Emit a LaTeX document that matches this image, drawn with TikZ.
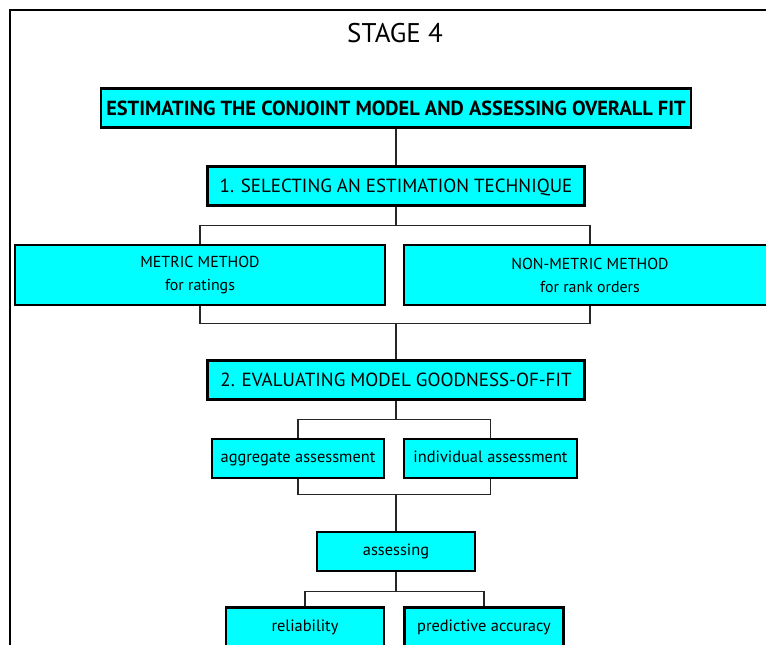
\documentclass[tikz,border=0pt]{standalone}
\usepackage{fontspec}
\setmainfont{PT Sans}
\usepackage{tikz}
\usetikzlibrary{positioning}
\usetikzlibrary{calc}
\definecolor{boxcyan}{RGB}{0,255,255}
\tikzstyle{plainbox}=[draw=black,fill=boxcyan,line width=2.6pt,inner sep=0pt]
\tikzstyle{stepbox}=[plainbox,minimum height=39pt,text height=13.3pt,text depth=0pt,font=\fontsize{19}{21}\selectfont]
\tikzstyle{smallbox}=[plainbox,minimum height=39pt,text height=11.5pt,text depth=3.5pt,font=\fontsize{16.4}{18}\selectfont]
\tikzstyle{methodbox}=[plainbox,minimum height=60pt,align=center,font=\fontsize{15.9}{23}\selectfont]
\tikzstyle{link} = [draw,line width=1.1pt,black!85]

\begin{document}
\begin{tikzpicture}[x=1pt,y=-1pt]

  \useasboundingbox (0,0) rectangle (766,645);
  \clip (0,0) rectangle (766,645);
  \draw[line width=2.6pt] (10,700) -- (10,10) -- (800,10);

  \node[font=\fontsize{27}{29}\selectfont] (stage) at (395,33) {STAGE 4};

  % main chain
  \node[stepbox,minimum width=590pt,text height=14.3pt,font=\fontsize{20.4}{22}\selectfont\bfseries] (estim) at (396,108) {ESTIMATING THE CONJOINT MODEL AND ASSESSING OVERALL FIT};
  \node[stepbox,minimum width=377pt] (select) at (396,186) {1. SELECTING AN ESTIMATION TECHNIQUE};
  \node[methodbox,minimum width=370pt] (metric) at (200,275) {METRIC METHOD\\for ratings};
  \node[methodbox,minimum width=372pt] (nonmetric) at (590,275) {NON-METRIC METHOD\\for rank orders};
  \node[stepbox,minimum width=377pt] (evaluate) at (396,380) {2. EVALUATING MODEL GOODNESS-OF-FIT};
  \node[smallbox,minimum width=172pt] (aggr) at (298,458.5) {aggregate assessment};
  \node[smallbox,minimum width=173pt] (indiv) at (490.5,458.5) {individual assessment};
  \node[smallbox,minimum width=158pt] (assess) at (396,551.5) {assessing};
  \node[smallbox,minimum width=158pt] (reliab) at (305,627) {reliability};
  \node[smallbox,minimum width=159pt] (predict) at (484,627) {predictive accuracy};

  \draw[link] (estim.south) -- (select.north);

  % splits
  \foreach \top/\left/\right in {select/metric/nonmetric, evaluate/aggr/indiv, assess/reliab/predict}
  {
    \draw[link] (\top.south) -- ++(0,19) coordinate (\top-split);
    \draw[link] (\left.north) |- (\top-split) -| (\right.north);
  }

  % joins
  \foreach \left/\right/\below in {metric/nonmetric/evaluate, aggr/indiv/assess}
  {
    \draw[link] (\below.north) -- ++(0,-36) coordinate (\below-join);
    \draw[link] (\left.south) |- (\below-join) -| (\right.south);
  }

\end{tikzpicture}
\end{document}
